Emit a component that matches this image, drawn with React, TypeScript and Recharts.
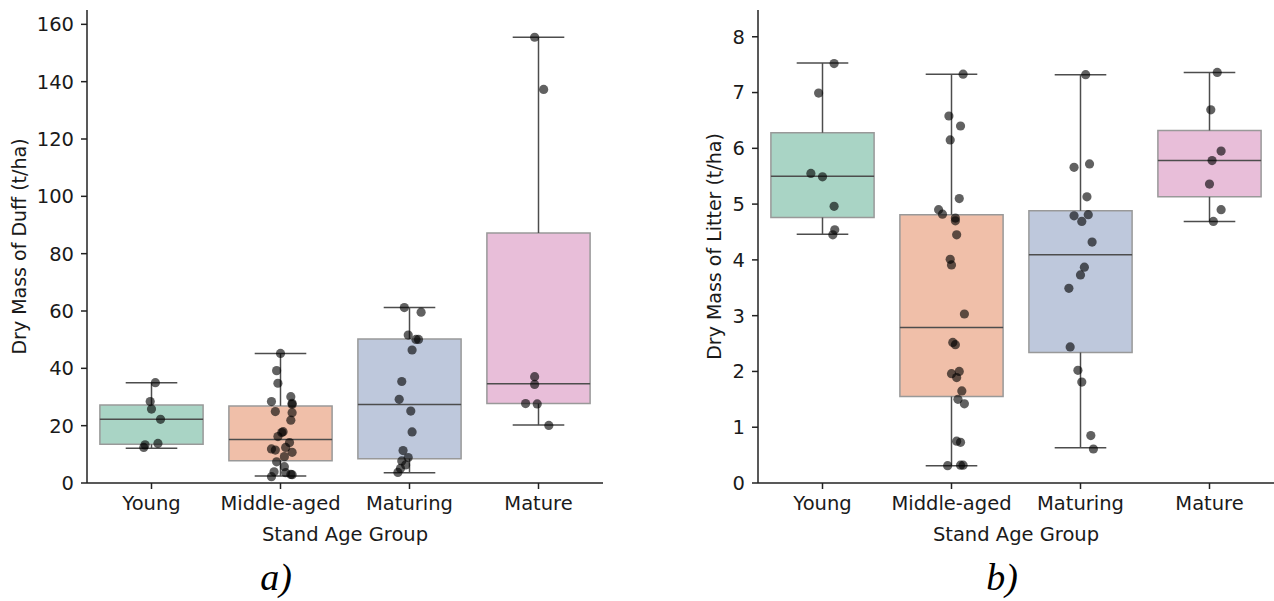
import React from 'react';
import { ComposedChart, Scatter, XAxis, YAxis, ReferenceArea, ReferenceLine } from 'recharts';

const groups = ['Young', 'Middle-aged', 'Maturing', 'Mature'];
const boxFills = ['#a9d4c5', '#f0bfa9', '#bec8dc', '#e8bed9'];

// a) duff, box stats per group
const duffLow = [12.1, 2.4, 3.6, 20.2];
const duffQ1 = [13.5, 7.8, 8.5, 27.7];
const duffMedian = [22.2, 15.2, 27.4, 34.6];
const duffQ3 = [27.2, 26.9, 50.2, 87.2];
const duffHigh = [35.0, 45.2, 61.2, 155.5];

const duffValues = [
  [35.0, 28.4, 25.8, 22.2, 13.3, 12.4, 13.8],
  [45.2, 39.2, 34.8, 30.1, 28.4, 27.8, 27.4, 24.9, 24.5, 21.9, 17.9, 17.6, 16.2, 14.1, 12.4, 11.9, 11.5, 10.7, 9.2, 7.4, 5.7, 3.9, 3.6, 3.0, 2.9, 2.2],
  [61.2, 59.6, 51.6, 50.1, 50.1, 46.4, 35.4, 29.2, 25.1, 17.8, 11.3, 8.9, 7.7, 6.3, 5.1, 3.7],
  [155.5, 137.3, 37.1, 34.4, 27.7, 27.6, 20.1],
];
const duffJitter = [
  [0.03, -0.01, 0.0, 0.07, -0.05, -0.06, 0.05],
  [0.0, -0.03, -0.02, 0.08, -0.07, 0.09, 0.09, -0.04, 0.09, 0.08, 0.02, 0.01, -0.02, 0.07, 0.04, -0.07, -0.04, 0.09, 0.03, -0.03, 0.03, -0.05, 0.04, 0.08, 0.09, -0.07],
  [-0.04, 0.09, -0.01, 0.05, 0.07, 0.02, -0.06, -0.08, 0.01, 0.02, -0.05, -0.01, -0.06, -0.03, -0.07, -0.09],
  [-0.03, 0.04, -0.03, -0.03, -0.1, -0.01, 0.08],
];

// b) litter
const litterLow = [4.46, 0.31, 0.63, 4.69];
const litterQ1 = [4.76, 1.55, 2.34, 5.13];
const litterMedian = [5.5, 2.79, 4.09, 5.78];
const litterQ3 = [6.28, 4.81, 4.88, 6.32];
const litterHigh = [7.53, 7.33, 7.32, 7.36];

const litterValues = [
  [7.52, 6.99, 5.55, 5.49, 4.96, 4.54, 4.45],
  [7.33, 6.58, 6.4, 6.15, 5.1, 4.9, 4.82, 4.75, 4.7, 4.45, 4.01, 3.91, 3.03, 2.52, 2.48, 1.96, 2.0, 1.89, 1.65, 1.5, 1.42, 0.75, 0.73, 0.31, 0.32, 0.32],
  [7.32, 5.66, 5.72, 5.13, 4.79, 4.81, 4.69, 4.32, 3.87, 3.73, 3.49, 2.44, 2.02, 1.81, 0.85, 0.61],
  [7.36, 6.69, 5.95, 5.78, 5.36, 4.9, 4.69],
];
const litterJitter = [
  [0.09, -0.03, -0.09, 0.0, 0.09, 0.095, 0.08],
  [0.09, -0.02, 0.07, -0.01, 0.06, -0.1, -0.07, 0.03, 0.03, 0.04, -0.01, 0.0, 0.1, 0.01, 0.03, 0.0, 0.06, 0.04, 0.08, 0.05, 0.1, 0.04, 0.07, -0.03, 0.07, 0.09],
  [0.04, -0.05, 0.07, 0.05, -0.05, 0.06, 0.01, 0.09, 0.03, 0.0, -0.09, -0.08, -0.02, 0.01, 0.08, 0.1],
  [0.06, 0.01, 0.09, 0.02, 0.0, 0.09, 0.03],
];

const FONT = '"DejaVu Sans", sans-serif';
const LINE = '#4d4d4d';

type PanelProps = {
  width: number;
  yWidth: number;
  marginRight: number;
  low: number[];
  q1: number[];
  median: number[];
  q3: number[];
  high: number[];
  values: number[][];
  jitter: number[][];
  yDomain: [number, number];
  yTicks: number[];
  yLabel: string;
};

function BoxPanel(p: PanelProps) {
  const pts = p.values.flatMap((vals, g) => vals.map((v, k) => ({ x: g + p.jitter[g][k], y: v })));
  const boxes = groups.map((_, i) => [
    <ReferenceArea key={`box${i}`} x1={i - 0.4} x2={i + 0.4} y1={p.q1[i]} y2={p.q3[i]}
      fill={boxFills[i]} fillOpacity={1} stroke="#999" strokeWidth={1.5} />,
    <ReferenceLine key={`wl${i}`} segment={[{ x: i, y: p.low[i] }, { x: i, y: p.q1[i] }]} stroke={LINE} strokeWidth={1.5} />,
    <ReferenceLine key={`wh${i}`} segment={[{ x: i, y: p.q3[i] }, { x: i, y: p.high[i] }]} stroke={LINE} strokeWidth={1.5} />,
    <ReferenceLine key={`cl${i}`} segment={[{ x: i - 0.2, y: p.low[i] }, { x: i + 0.2, y: p.low[i] }]} stroke={LINE} strokeWidth={1.5} />,
    <ReferenceLine key={`ch${i}`} segment={[{ x: i - 0.2, y: p.high[i] }, { x: i + 0.2, y: p.high[i] }]} stroke={LINE} strokeWidth={1.5} />,
    <ReferenceLine key={`md${i}`} segment={[{ x: i - 0.4, y: p.median[i] }, { x: i + 0.4, y: p.median[i] }]} stroke={LINE} strokeWidth={1.5} />,
  ]);
  return (
    <ComposedChart width={p.width} height={545} margin={{ top: 10, right: p.marginRight, left: 0, bottom: 0 }}>
      <XAxis type="number" dataKey="x" domain={[-0.5, 3.5]} ticks={[0, 1, 2, 3]} allowDataOverflow
        tickFormatter={(v: number) => groups[v]} height={62} tickMargin={7}
        tick={{ fill: '#1a1a1a', fontSize: 19.5, fontFamily: FONT }}
        axisLine={{ stroke: '#222', strokeWidth: 1.5 }} tickLine={{ stroke: '#222', strokeWidth: 1.5 }}
        label={{ value: 'Stand Age Group', position: 'insideBottom', offset: 4, fill: '#1a1a1a', fontSize: 19.5, fontFamily: FONT }} />
      <YAxis type="number" dataKey="y" domain={p.yDomain} ticks={p.yTicks} width={p.yWidth} allowDataOverflow
        tickMargin={7}
        tick={{ fill: '#1a1a1a', fontSize: 19.5, fontFamily: FONT }}
        axisLine={{ stroke: '#222', strokeWidth: 1.5 }} tickLine={{ stroke: '#222', strokeWidth: 1.5 }}
        label={{ value: p.yLabel, angle: -90, position: 'insideLeft', offset: 19, fill: '#1a1a1a', fontSize: 19, fontFamily: FONT, style: { textAnchor: 'middle' } }} />
      {boxes}
      <Scatter data={pts} isAnimationActive={false}
        shape={(s: any) => <circle cx={s.cx} cy={s.cy} r={4.6} fill="#000" fillOpacity={0.62} />} />
    </ComposedChart>
  );
}

export default function App() {
  return (
    <div style={{ position: 'absolute', left: 0, top: 0, width: 1274, height: 601, background: '#fff' }}>
      <div style={{ position: 'absolute', left: 0, top: 0 }}>
        <BoxPanel width={620} yWidth={87} marginRight={17}
          low={duffLow} q1={duffQ1} median={duffMedian} q3={duffQ3} high={duffHigh}
          values={duffValues} jitter={duffJitter} yDomain={[0, 165]}
          yTicks={[0, 20, 40, 60, 80, 100, 120, 140, 160]} yLabel="Dry Mass of Duff (t/ha)" />
      </div>
      <div style={{ position: 'absolute', left: 695, top: 0 }}>
        <BoxPanel width={579} yWidth={63} marginRight={0}
          low={litterLow} q1={litterQ1} median={litterMedian} q3={litterQ3} high={litterHigh}
          values={litterValues} jitter={litterJitter} yDomain={[0, 8.48]}
          yTicks={[0, 1, 2, 3, 4, 5, 6, 7, 8]} yLabel="Dry Mass of Litter (t/ha)" />
      </div>
      <div style={{ position: 'absolute', left: 226, top: 555, width: 100, textAlign: 'center', fontFamily: '"Liberation Serif", serif', fontStyle: 'italic', fontSize: 38 }}>a)</div>
      <div style={{ position: 'absolute', left: 952, top: 555, width: 100, textAlign: 'center', fontFamily: '"Liberation Serif", serif', fontStyle: 'italic', fontSize: 38 }}>b)</div>
    </div>
  );
}
